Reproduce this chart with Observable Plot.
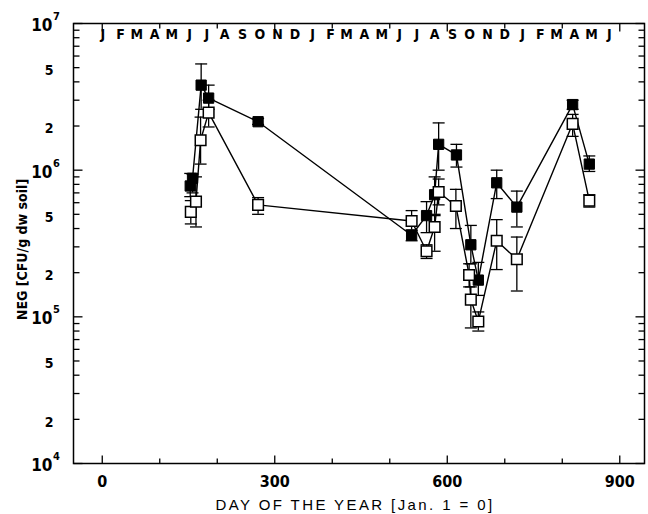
<!DOCTYPE html>
<html><head><meta charset="utf-8">
<script src="https://cdn.jsdelivr.net/npm/d3@7"></script>
<script src="https://cdn.jsdelivr.net/npm/@observablehq/plot@0.6"></script>
<style>
body{margin:0;background:#fff}
#chart svg{display:block}
</style>
</head><body><div id="chart"></div>
<script>
// ---- data ----
const filledDays = [153, 157, 172, 185, 271, 538, 564, 578, 585, 616, 641, 654, 686, 721, 818, 847];
const filledVals = [7.8e5, 8.8e5, 3.8e6, 3.1e6, 2.14e6, 3.6e5, 4.9e5, 6.8e5, 1.5e6, 1.27e6, 3.1e5, 1.78e5, 8.2e5, 5.6e5, 2.8e6, 1.1e6];
const filledLo   = [6.6e5, 7.0e5, 2.6e6, 2.6e6, 2.05e6, 3.3e5, 3.75e5, 5.0e5, 1.0e6, 1.05e6, 2.3e5, 1.4e5, 6.4e5, 4.1e5, 2.6e6, 9.8e5];
const filledHi   = [9.5e5, 9.4e5, 5.3e6, 3.8e6, 2.25e6, 3.9e5, 6.1e5, 9.0e5, 2.1e6, 1.5e6, 4.2e5, 2.35e5, 1.0e6, 7.2e5, 3.0e6, 1.25e6];

const openDays = [154, 163, 171, 185, 271, 538, 564, 578, 585, 615, 638, 641, 654, 686, 721, 818, 847];
const openVals = [5.2e5, 6.1e5, 1.6e6, 2.47e6, 5.8e5, 4.5e5, 2.8e5, 4.1e5, 7.1e5, 5.7e5, 1.93e5, 1.31e5, 9.3e4, 3.3e5, 2.47e5, 2.07e6, 6.2e5];
const openLo   = [4.3e5, 4.1e5, 1.1e6, 1.97e6, 5.0e5, 3.9e5, 2.5e5, 2.8e5, 5.8e5, 4.0e5, 1.6e5, 8.4e4, 8.0e4, 2.1e5, 1.5e5, 1.7e6, 5.6e5];
const openHi   = [6.2e5, 9.0e5, 2.3e6, 3.0e6, 6.5e5, 5.3e5, 3.1e5, 4.9e5, 8.7e5, 7.4e5, 2.3e5, 1.6e5, 1.08e5, 4.6e5, 3.5e5, 2.4e6, 6.8e5];

const monthLabels = ["J","F","M","A","M","J","J","A","S","O","N","D",
                     "J","F","M","A","M","J","J","A","S","O","N","D",
                     "J","F","M","A","M","J"];
const monthDays   = [0,31,59,90,120,151,181,212,243,273,304,334,
                     365,396,424,455,485,516,546,577,608,638,669,699,
                     730,761,789,820,850,881];

const xTickLabels = [0, 300, 600, 900];
const xMinorTicks = [100, 200, 400, 500, 700, 800];
const yMajorTicks = [1e4, 1e5, 1e6, 1e7];
const yMajorExp   = ["4", "5", "6", "7"];
const yMinorLabelTicks = [2e4, 5e4, 2e5, 5e5, 2e6, 5e6];
const yMinorLabels     = ["2", "5", "2", "5", "2", "5"];
const yMinorTicks = [];
for (const d of [1e4, 1e5, 1e6]) for (let m = 2; m <= 9; m++) yMinorTicks.push(m * d);

const xTitle = "DAY OF THE YEAR [Jan. 1 = 0]";
const yTitle = "NEG [CFU/g dw soil]";

// ---- tables ----
const filled = filledDays.map((d, i) => ({day: d, v: filledVals[i], lo: filledLo[i], hi: filledHi[i]}));
const open   = openDays.map((d, i) => ({day: d, v: openVals[i], lo: openLo[i], hi: openHi[i]}));
const months = monthLabels.map((m, i) => ({m, day: monthDays[i] + 1}));
const yMaj = yMajorTicks.map((v, i) => ({v, e: yMajorExp[i]}));
const yMinLab = yMinorLabelTicks.map((v, i) => ({v, t: yMinorLabels[i]}));

// custom line symbols (pixel lengths)
const seg = (x0, y0, x1, y1) => ({draw(ctx) { ctx.moveTo(x0, y0); ctx.lineTo(x1, y1); }});
const cap = seg(-6, 0, 6, 0);

const F = "'Liberation Sans Narrow','DejaVu Sans Condensed','Arial Narrow',sans-serif";
const K = {stroke: "black", strokeWidth: 1.3};

const plot = Plot.plot({
  width: 648,
  height: 514,
  marginLeft: 73,
  marginRight: 4,
  marginTop: 23,
  marginBottom: 51,
  style: {fontFamily: F, background: "white", overflow: "visible"},
  x: {domain: [-50, 943], axis: null},
  y: {type: "log", domain: [1e4, 1e7], axis: null},
  marks: [
    Plot.frame({stroke: "black", strokeWidth: 1.5}),
    // bottom ticks
    Plot.dot(xTickLabels, {x: d => d, frameAnchor: "bottom", symbol: seg(0, 0, 0, -8), ...K}),
    Plot.dot(xMinorTicks, {x: d => d, frameAnchor: "bottom", symbol: seg(0, 0, 0, -5), ...K}),
    // top ticks
    Plot.dot(xTickLabels, {x: d => d, frameAnchor: "top", symbol: seg(0, 0, 0, 8), ...K}),
    Plot.dot(xMinorTicks, {x: d => d, frameAnchor: "top", symbol: seg(0, 0, 0, 5), ...K}),
    // left ticks
    Plot.dot(yMajorTicks, {y: d => d, frameAnchor: "left", symbol: seg(0, 0, 9, 0), ...K}),
    Plot.dot(yMinorTicks, {y: d => d, frameAnchor: "left", symbol: seg(0, 0, 6, 0), ...K}),
    // right ticks
    Plot.dot(yMajorTicks, {y: d => d, frameAnchor: "right", symbol: seg(0, 0, -9, 0), ...K}),
    Plot.dot(yMinorTicks, {y: d => d, frameAnchor: "right", symbol: seg(0, 0, -6, 0), ...K}),
    // x tick labels
    Plot.text(xTickLabels, {x: d => d, frameAnchor: "bottom", dy: 18, text: d => String(d),
      textAnchor: "middle", lineAnchor: "middle", fontSize: 16, fontWeight: "bold", fill: "black"}),
    // y tick labels
    Plot.text(yMaj, {y: "v", frameAnchor: "left", dx: -21, dy: 2, text: () => "10", textAnchor: "end",
      lineAnchor: "middle", fontSize: 17, fontWeight: "bold", fill: "black"}),
    Plot.text(yMaj, {y: "v", frameAnchor: "left", dx: -20.5, dy: -7, text: "e", textAnchor: "start",
      lineAnchor: "middle", fontSize: 11, fontWeight: "bold", fill: "black"}),
    Plot.text(yMinLab, {y: "v", frameAnchor: "left", dx: -24.5, dy: 3, text: "t", textAnchor: "middle",
      lineAnchor: "middle", fontSize: 14, fontWeight: "bold", fill: "black"}),
    // month labels
    Plot.text(months, {x: "day", frameAnchor: "top", dy: 11, text: "m", textAnchor: "middle",
      lineAnchor: "middle", fontSize: 14, fontWeight: "bold", fill: "black"}),
    // axis titles
    Plot.text([xTitle], {frameAnchor: "bottom", dx: -4, dy: 42, text: d => d, textAnchor: "middle",
      lineAnchor: "middle", fontSize: 15, fill: "black",
      fontFamily: "'Liberation Sans',Arial,sans-serif"}),
    Plot.text([yTitle], {frameAnchor: "left", dx: -51, dy: 6, rotate: -90, text: d => d, textAnchor: "middle",
      lineAnchor: "middle", fontSize: 14, fontWeight: "bold", fill: "black"}),
    // lines
    Plot.line(filled, {x: "day", y: "v", stroke: "black", strokeWidth: 1.4}),
    Plot.line(open, {x: "day", y: "v", stroke: "black", strokeWidth: 1.4}),
    // error bars
    Plot.ruleX(filled, {x: "day", y1: "lo", y2: "hi", ...K}),
    Plot.ruleX(open, {x: "day", y1: "lo", y2: "hi", ...K}),
    Plot.dot(filled, {x: "day", y: "lo", symbol: cap, ...K}),
    Plot.dot(filled, {x: "day", y: "hi", symbol: cap, ...K}),
    Plot.dot(open, {x: "day", y: "lo", symbol: cap, ...K}),
    Plot.dot(open, {x: "day", y: "hi", symbol: cap, ...K}),
    // squares
    Plot.dot(filled, {x: "day", y: "v", symbol: "square", r: 5.8, fill: "black", stroke: "black", strokeWidth: 1}),
    Plot.dot(open, {x: "day", y: "v", symbol: "square", r: 6, fill: "white", stroke: "black", strokeWidth: 1.5})
  ]
});
// widen the tracking of the x-axis title as in the original
d3.select(plot).selectAll("text")
  .filter(function() { return this.textContent === xTitle; })
  .style("letter-spacing", "2.4px");
document.getElementById("chart").append(plot);
</script>
</body></html>
